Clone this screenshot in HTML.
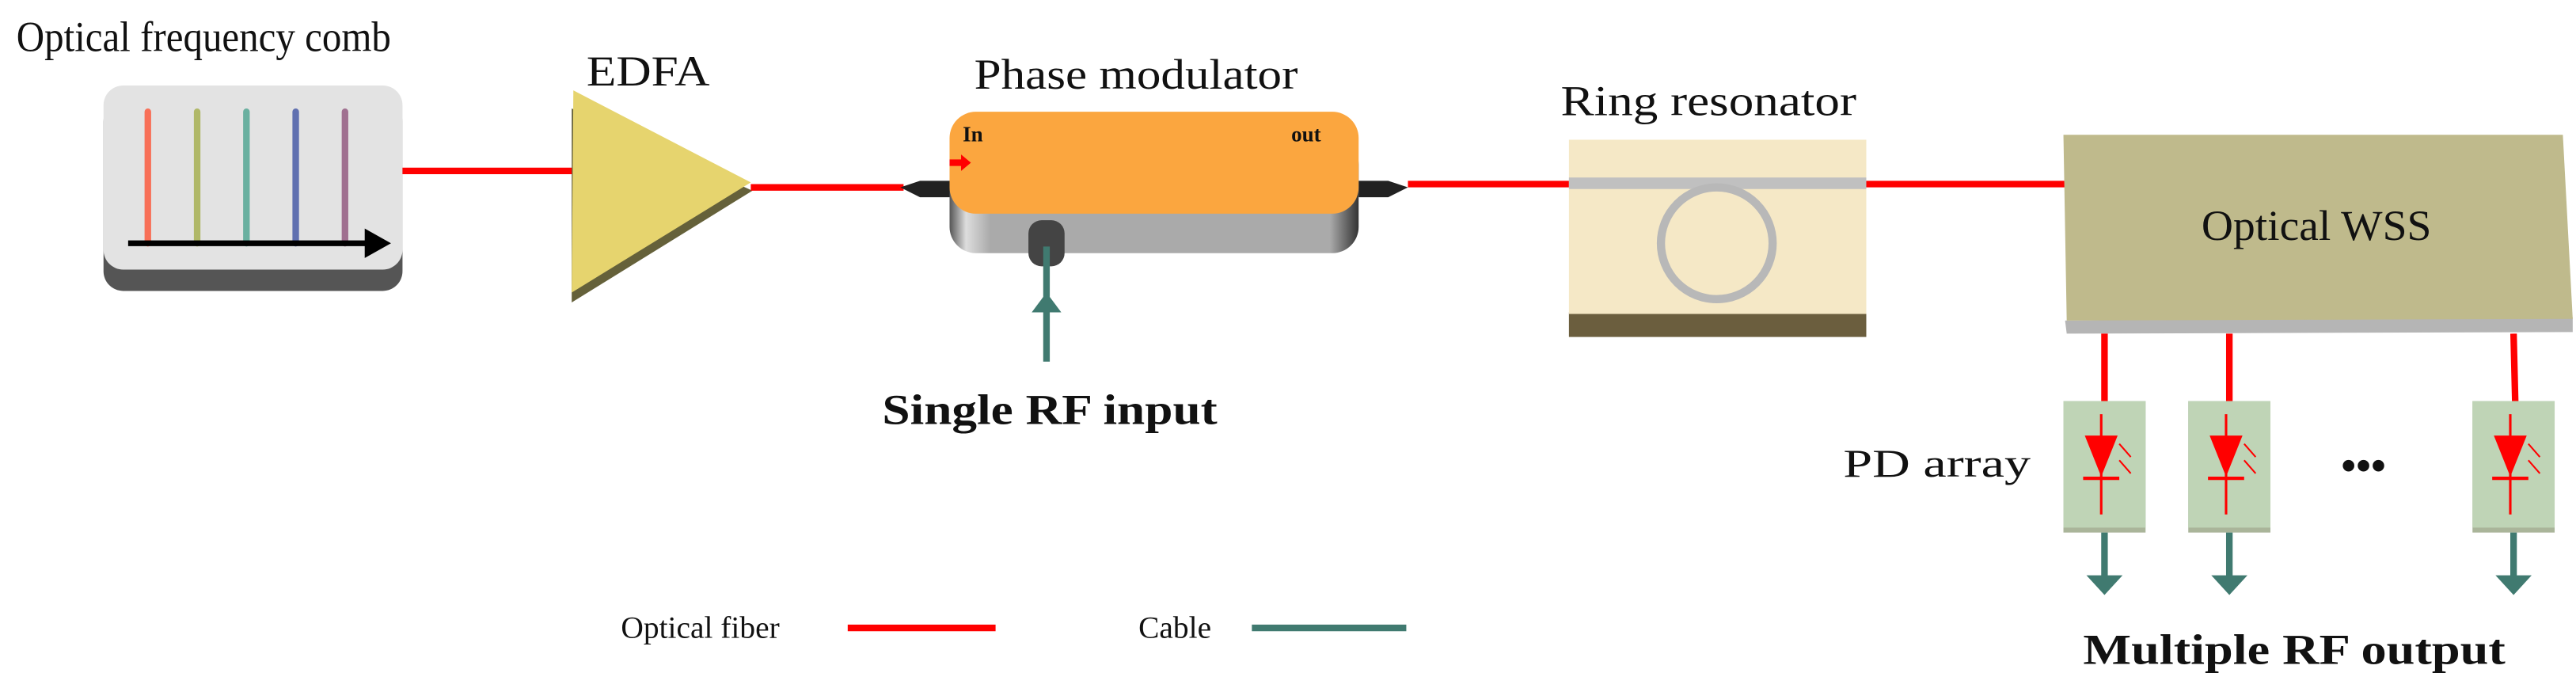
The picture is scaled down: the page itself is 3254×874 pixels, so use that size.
<!DOCTYPE html>
<html><head><meta charset="utf-8"><style>
html,body{margin:0;padding:0;background:#fff;}
svg{display:block;}
text{font-family:"Liberation Serif",serif;fill:#111;}
</style></head><body>
<svg width="3254" height="874" viewBox="0 0 1568 421" preserveAspectRatio="none">
<defs>
<linearGradient id="gside" x1="0" x2="1"><stop offset="0" stop-color="#555"/><stop offset="0.04" stop-color="#ddd"/><stop offset="0.1" stop-color="#aaa"/><stop offset="0.93" stop-color="#aaa"/><stop offset="1" stop-color="#333"/></linearGradient>
</defs>
<!-- Comb -->
<text x="10" y="31" font-size="26" textLength="228" lengthAdjust="spacingAndGlyphs">Optical frequency comb</text>
<rect x="63" y="62" width="182" height="115" rx="12" fill="#555"/>
<rect x="63" y="52" width="182" height="112" rx="12" fill="#e3e3e3"/>
<g stroke-width="4" stroke-linecap="round">
<line x1="90" y1="68" x2="90" y2="148" stroke="#f87058"/>
<line x1="120" y1="68" x2="120" y2="148" stroke="#b0b868"/>
<line x1="150" y1="68" x2="150" y2="148" stroke="#6ab0a0"/>
<line x1="180" y1="68" x2="180" y2="148" stroke="#6070b0"/>
<line x1="210" y1="68" x2="210" y2="148" stroke="#a07090"/>
</g>
<line x1="78" y1="148" x2="225" y2="148" stroke="#000" stroke-width="3.5"/>
<polygon points="222,139 238,148 222,157" fill="#000"/>
<line x1="245" y1="104" x2="350" y2="104" stroke="#f00" stroke-width="4"/>
<!-- EDFA -->
<text x="357" y="52" font-size="26" textLength="75" lengthAdjust="spacingAndGlyphs">EDFA</text>
<polygon points="348,66 458,116 348,184" fill="#65613a"/>
<polygon points="349,55 457,111 348,178" fill="#e6d46e"/>
<line x1="457" y1="114" x2="550" y2="114" stroke="#f00" stroke-width="4"/>
<!-- Phase modulator -->
<text x="593" y="54" font-size="26" textLength="197" lengthAdjust="spacingAndGlyphs">Phase modulator</text>
<path d="M548,114 L560,110 L578,110 L578,120 L560,120 Z" fill="#222"/>
<path d="M827,110 L845,110 L857,114 L845,120 L827,120 Z" fill="#222"/>
<rect x="578" y="84" width="249" height="70" rx="16" fill="url(#gside)"/>
<rect x="578" y="68" width="249" height="62" rx="16" fill="#fba63f"/>
<text x="586" y="86" font-size="13" font-weight="bold">In</text>
<text x="786" y="86" font-size="13" font-weight="bold">out</text>
<polygon points="578,97 585,97 585,94 591,99 585,104 585,101 578,101" fill="#f00"/>
<rect x="626" y="134" width="22" height="28" rx="8" fill="#444"/>
<line x1="637" y1="150" x2="637" y2="220" stroke="#407a70" stroke-width="4"/>
<polygon points="628,190 637,178 646,190" fill="#407a70"/>
<text x="537" y="258" font-size="26" font-weight="bold" textLength="204" lengthAdjust="spacingAndGlyphs">Single RF input</text>
<line x1="857" y1="112" x2="957" y2="112" stroke="#f00" stroke-width="4"/>
<!-- Ring -->
<text x="950" y="70" font-size="26" textLength="180" lengthAdjust="spacingAndGlyphs">Ring  resonator</text>
<rect x="955" y="190" width="181" height="15" fill="#6b5e3e"/>
<rect x="955" y="85" width="181" height="106" fill="#f5e8c6"/>
<rect x="955" y="108" width="181" height="7" fill="#c0c0c0"/>
<circle cx="1045" cy="148" r="34" fill="none" stroke="#b8b8b8" stroke-width="5"/>
<line x1="1136" y1="112" x2="1258" y2="112" stroke="#f00" stroke-width="4"/>
<!-- WSS -->
<polygon points="1257,195 1566,193 1566,202 1258,203" fill="#b5b5b5"/>
<polygon points="1256,82 1560,82 1566,194 1258,195" fill="#bfba8c"/>
<text x="1340" y="146" font-size="26" textLength="140" lengthAdjust="spacingAndGlyphs">Optical WSS</text>
<g stroke="#f00" stroke-width="4">
<line x1="1281" y1="203" x2="1281" y2="244"/>
<line x1="1357" y1="203" x2="1357" y2="244"/>
<line x1="1530" y1="203" x2="1531" y2="244"/>
</g>
<text x="1122" y="290" font-size="24" textLength="114" lengthAdjust="spacingAndGlyphs">PD array</text>
<text x="1425" y="292" font-size="26" font-weight="bold">•••</text>
<g id="pd">
<rect x="1256" y="244" width="50" height="80" fill="#aab59a"/>
<rect x="1256" y="244" width="50" height="77" fill="#bfd4b6"/>
<line x1="1279" y1="252" x2="1279" y2="313" stroke="#f00" stroke-width="1.5"/>
<polygon points="1269,265 1289,265 1279,290" fill="#f00"/>
<line x1="1268" y1="291" x2="1290" y2="291" stroke="#f00" stroke-width="2"/>
<line x1="1290" y1="270" x2="1297" y2="278" stroke="#f00" stroke-width="1"/>
<line x1="1290" y1="280" x2="1297" y2="288" stroke="#f00" stroke-width="1"/>
<line x1="1281" y1="324" x2="1281" y2="352" stroke="#407a70" stroke-width="4"/>
<polygon points="1270,350 1292,350 1281,362" fill="#407a70"/>
</g>
<use href="#pd" x="76"/>
<use href="#pd" x="249"/>
<text x="1268" y="404" font-size="26" font-weight="bold" textLength="257" lengthAdjust="spacingAndGlyphs">Multiple RF output</text>
<!-- Legend -->
<text x="378" y="388" font-size="19">Optical fiber</text>
<line x1="516" y1="382" x2="606" y2="382" stroke="#f00" stroke-width="4"/>
<text x="693" y="388" font-size="19">Cable</text>
<line x1="762" y1="382" x2="856" y2="382" stroke="#407a70" stroke-width="4"/>
</svg>
</body></html>
